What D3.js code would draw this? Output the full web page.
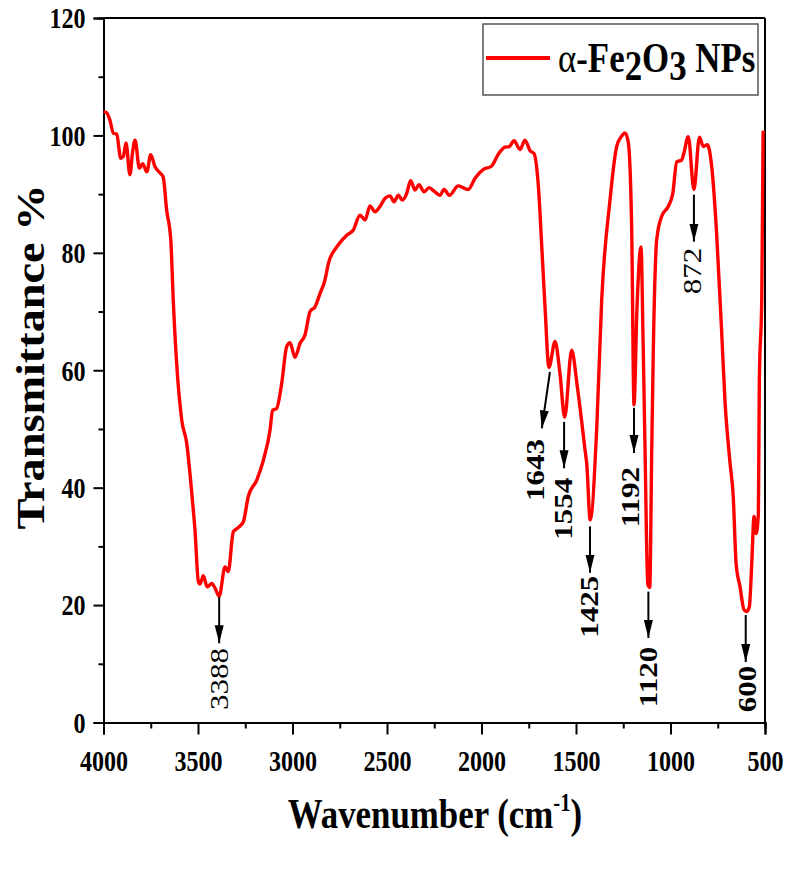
<!DOCTYPE html>
<html>
<head>
<meta charset="utf-8">
<script src="https://cdn.jsdelivr.net/npm/d3@7"></script>
<style>
  body { margin: 0; background: #fff; }
  svg text { font-family: "Liberation Serif", "Times New Roman", serif; fill: #000; }
</style>
</head>
<body>
<svg id="ftir" width="792" height="870"></svg>
<script>
// FTIR spectrum
const wavenumber = [4000,3985,3966,3948,3930,3909,3895,3881,3860,3846,3833,3810,3793,3771,3750,3728,3701,3684,3666,3644,3631,3613,3586,3560,3533,3516,3498,3489,3472,3451,3427,3410,3388,3357,3340,3313,3287,3260,3234,3189,3154,3119,3105,3084,3057,3031,3013,2987,2960,2934,2907,2881,2854,2828,2810,2766,2713,2678,2643,2616,2590,2563,2537,2510,2484,2463,2440,2419,2396,2375,2352,2331,2304,2277,2251,2220,2198,2170,2123,2070,2034,1990,1946,1911,1876,1853,1828,1796,1770,1743,1722,1699,1681,1664,1643,1611,1585,1560,1523,1493,1452,1443,1425,1390,1364,1320,1285,1258,1240,1223,1205,1193,1178,1156,1145,1135,1120,1110,1099,1091,1073,1047,1012,988,967,941,929,906,876,847,826,805,782,756,729,712,685,668,653,632,611,597,583,570,558,547,535,530,517,510]
const transmittance = [104.0,103.9,102.6,100.4,100.2,96.1,96.4,98.7,93.3,97.2,99.2,94.4,95.2,93.8,96.7,94.7,93.6,92.9,87.3,82.2,72.0,61.2,51.5,47.6,39.1,32.8,24.0,23.6,25.0,23.1,23.7,22.9,21.5,26.5,25.7,32.5,33.2,34.2,38.5,41.3,44.7,49.8,53.2,53.5,57.8,64.0,64.7,62.2,64.6,66.0,70.0,70.8,73.1,75.4,78.2,81.0,83.0,83.9,86.4,85.6,88.0,87.0,87.9,89.3,89.7,88.7,89.8,89.0,90.1,92.3,90.7,91.6,90.4,91.1,90.5,89.8,90.8,89.8,91.4,90.8,92.7,94.2,94.8,96.8,98.0,98.1,99.1,97.6,99.2,97.4,96.9,91.3,81.0,70.8,60.5,64.9,59.5,52.0,63.4,57.2,46.4,44.0,34.5,50.4,72.0,89.0,98.1,99.9,100.4,98.7,83.3,54.1,70.0,81.0,65.0,47.0,23.5,23.0,47.0,63.4,82.2,86.2,87.9,90.1,95.5,95.8,97.0,99.8,90.8,99.7,98.1,98.4,94.7,83.3,66.3,54.9,44.2,38.5,27.1,23.1,19.2,18.9,19.7,27.1,35.1,32.2,35.6,58.3,72.5,100.8]

// peak annotations
const peakLabels = ['3388','1643','1554','1425','1192','1120','600','872']
const arrowFromWn = [3388,1638,1563,1426,1193,1117,602,876]
const arrowFromT = [21.4,59.7,51.2,33.4,53.6,22.3,18.3,89.9]
const arrowToWn = [3388,1681,1563,1426,1193,1117,602,876]
const arrowToT = [13.5,50.1,43.3,25.5,45.9,14.4,10.3,81.9]
const labelWn = [3386,1717,1566,1431,1214,1116,595,884]
const labelT = [7.4,43.0,36.4,19.7,38.4,7.75,5.7,76.9]
const labelBold = [false,true,true,true,true,true,true,false]

const xMajor = [4000,3500,3000,2500,2000,1500,1000,500]
const xMinor = [3750,3250,2750,2250,1750,1250,750]
const yMajor = [0,20,40,60,80,100,120]
const yMinor = [10,30,50,70,90,110]

const squeeze = 0.83   // the picture is a bit narrow horizontally

let svg = d3.select('#ftir')
let xScale = d3.scaleLinear().domain([4000, 500]).range([103.5, 765])
let yScale = d3.scaleLinear().domain([0, 120]).range([722.5, 18])

// frame top / right
svg.append('line').attr('x1', 103.5).attr('x2', 765).attr('y1', 18).attr('y2', 18)
   .attr('stroke', '#000').attr('stroke-width', 2)
svg.append('line').attr('x1', 765).attr('x2', 765).attr('y1', 18).attr('y2', 722.5)
   .attr('stroke', '#000').attr('stroke-width', 2)

// x axis
let xAxisG = svg.append('g').attr('transform', 'translate(0,722.5)')
xAxisG.call(d3.axisBottom(xScale).tickValues(xMajor).tickSize(12).tickFormat(d3.format('d')))
xAxisG.append('g').call(d3.axisBottom(xScale).tickValues(xMinor).tickSize(6).tickFormat(''))
xAxisG.selectAll('path.domain').attr('stroke-width', 2)
xAxisG.selectAll('.tick line').attr('stroke-width', 2)
xAxisG.selectAll('.tick text')
      .attr('y', 49).attr('dy', 0)
      .attr('font-size', 29).attr('font-weight', 'bold')
      .attr('transform', `scale(${squeeze},1)`)

// y axis
let yAxisG = svg.append('g').attr('transform', 'translate(103.5,0)')
yAxisG.call(d3.axisLeft(yScale).tickValues(yMajor).tickSize(10))
yAxisG.append('g').call(d3.axisLeft(yScale).tickValues(yMinor).tickSize(5).tickFormat(''))
yAxisG.selectAll('path.domain').attr('stroke-width', 2)
yAxisG.selectAll('.tick line').attr('stroke-width', 2)
yAxisG.selectAll('.tick text')
      .attr('x', -18 / squeeze).attr('dy', '0.34em')
      .attr('font-size', 29).attr('font-weight', 'bold')
      .attr('transform', `scale(${squeeze},1)`)
svg.selectAll('.domain').attr('stroke', '#000')

// axis titles
svg.append('text').text('Transmittance %')
   .attr('transform', 'translate(44,357) rotate(-90)')
   .attr('text-anchor', 'middle').attr('font-size', 40).attr('font-weight', 'bold')
   .attr('textLength', 345).attr('lengthAdjust', 'spacingAndGlyphs')

let xt = svg.append('text').attr('transform', `translate(435,828) scale(${squeeze},1)`)
   .attr('text-anchor', 'middle')
   .attr('font-size', 42).attr('font-weight', 'bold')
xt.append('tspan').text('Wavenumber (cm')
xt.append('tspan').text('-1').attr('font-size', 25).attr('dy', -17)
xt.append('tspan').text(')').attr('dy', 17)

// spectrum line
let line = d3.line()
  .x((d, i) => xScale(wavenumber[i]))
  .y((d, i) => yScale(transmittance[i]))
  .curve(d3.curveMonotoneX)
svg.append('path').datum(transmittance)
   .attr('fill', 'none').attr('stroke', '#ff0000').attr('stroke-width', 3.4)
   .attr('stroke-linejoin', 'round')
   .attr('d', line)

// arrow head
svg.append('defs').append('marker')
   .attr('id', 'head').attr('markerUnits', 'userSpaceOnUse')
   .attr('viewBox', '0 -5 18 10').attr('refX', 18).attr('refY', 0)
   .attr('markerWidth', 18).attr('markerHeight', 10).attr('orient', 'auto')
   .append('path').attr('d', 'M0,-4.5L18,0L0,4.5Z').attr('fill', '#000')

let annot = svg.append('g')
annot.selectAll('line').data(peakLabels).join('line')
     .attr('x1', (d, i) => xScale(arrowFromWn[i])).attr('y1', (d, i) => yScale(arrowFromT[i]))
     .attr('x2', (d, i) => xScale(arrowToWn[i])).attr('y2', (d, i) => yScale(arrowToT[i]))
     .attr('stroke', '#000').attr('stroke-width', 2).attr('marker-end', 'url(#head)')
annot.selectAll('text').data(peakLabels).join('text')
     .text(d => d)
     .attr('transform', (d, i) => `translate(${xScale(labelWn[i])},${yScale(labelT[i])}) rotate(-90) scale(1,${squeeze})`)
     .attr('text-anchor', 'middle').attr('dy', '0.34em')
     .attr('font-size', 31).attr('font-weight', (d, i) => labelBold[i] ? 'bold' : 'normal')

// legend
let legend = svg.append('g')
legend.append('rect').attr('x', 483).attr('y', 24).attr('width', 275).attr('height', 71)
      .attr('fill', '#fff').attr('stroke', '#555').attr('stroke-width', 1.5)
legend.append('line').attr('x1', 486).attr('x2', 550).attr('y1', 58).attr('y2', 58)
      .attr('stroke', '#ff0000').attr('stroke-width', 4)
let lt = legend.append('text').attr('transform', `translate(558,72) scale(${squeeze},1)`)
      .attr('font-size', 42)
lt.append('tspan').text('α')
lt.append('tspan').text('-Fe').attr('font-weight', 'bold')
lt.append('tspan').text('2').attr('font-weight', 'bold').attr('dy', 8)
lt.append('tspan').text('O').attr('font-weight', 'bold').attr('dy', -8)
lt.append('tspan').text('3').attr('font-weight', 'bold').attr('dy', 8)
lt.append('tspan').text(' NPs').attr('font-weight', 'bold').attr('dy', -8)
</script>
</body>
</html>
